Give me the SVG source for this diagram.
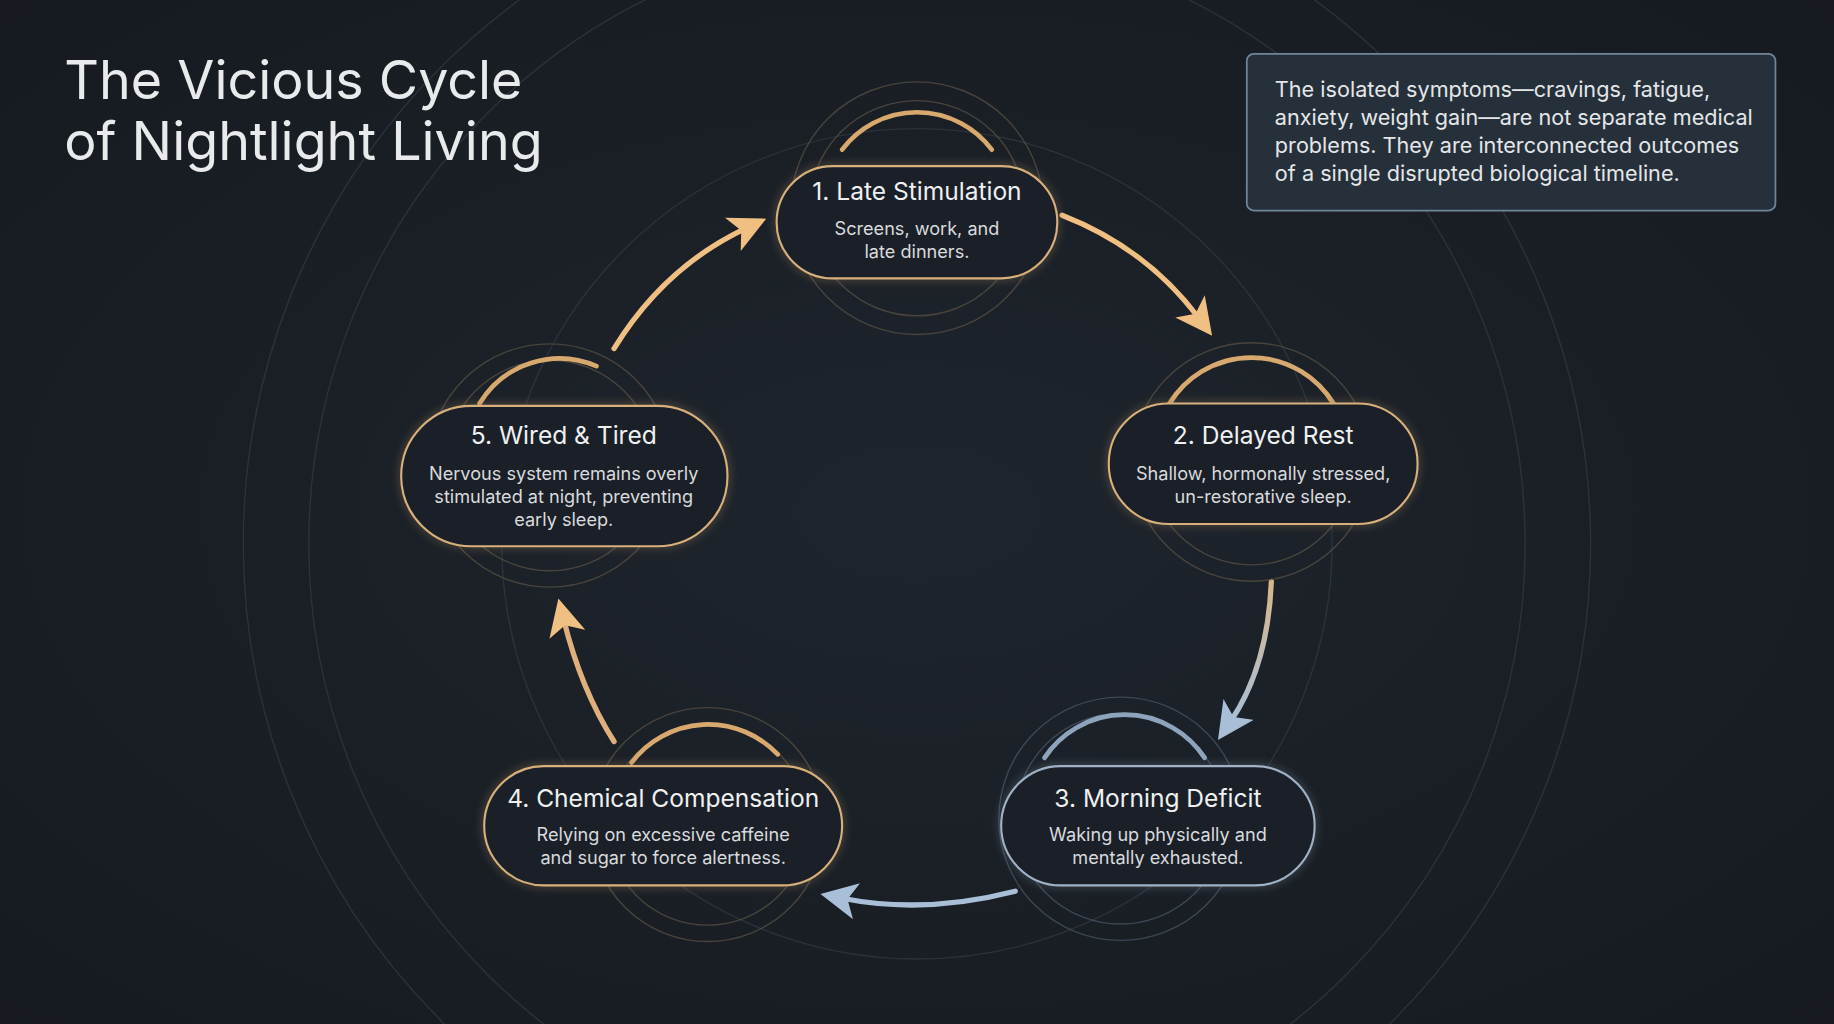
<svg xmlns="http://www.w3.org/2000/svg" width="1834" height="1024" viewBox="0 0 1834 1024">
<defs>
<radialGradient id="bg" cx="50%" cy="50%" r="70%"><stop offset="0" stop-color="#1f252d"/><stop offset="1" stop-color="#161a20"/></radialGradient>
<marker id="ag" viewBox="0 0 10 10" refX="4" refY="5" markerWidth="7" markerHeight="7" orient="auto-start-reverse"><path d="M0,0 L10,5 L0,10 L2.5,5 z" fill="#f0bf82"/></marker>
<marker id="ab" viewBox="0 0 10 10" refX="4" refY="5" markerWidth="7" markerHeight="7" orient="auto-start-reverse"><path d="M0,0 L10,5 L0,10 L2.5,5 z" fill="#a9bfd8"/></marker>
<linearGradient id="g23" x1="0" y1="0" x2="0" y2="1"><stop offset="0" stop-color="#d9b58a"/><stop offset="1" stop-color="#a9bfd8"/></linearGradient>
<filter id="glow" x="-30%" y="-30%" width="160%" height="160%"><feGaussianBlur stdDeviation="4"/></filter>
</defs>
<style>
.pill{fill:#1b2028;stroke:#d8b07c;stroke-width:1.8}
.pillb{fill:#1b2028;stroke:#9fb2c6;stroke-width:1.8}
.ring{fill:none;stroke:#5c5346;stroke-width:1.2;opacity:.7}
.ringb{fill:none;stroke:#4b5868;stroke-width:1.2;opacity:.7}
.arcg{fill:none;stroke:#d8a96e;stroke-width:4;stroke-linecap:round}
.arcb{fill:none;stroke:#8ea4bd;stroke-width:4;stroke-linecap:round}
.h{font-family:Inter,"Liberation Sans",sans-serif;font-size:21px;fill:#eef0f2;text-anchor:middle}
.s{font-family:Inter,"Liberation Sans",sans-serif;font-size:15.5px;fill:#d8dadd;text-anchor:middle}
.con{fill:none;stroke-width:4.5;stroke-linecap:round}
</style>
<rect width="1834" height="1024" fill="url(#bg)"/>
<g transform="scale(1.1696)">
<g id="bgcircles" fill="none" stroke="#2c323a" stroke-width="1.2">
<circle cx="784" cy="465" r="520"/><circle cx="784" cy="465" r="576"/><circle cx="784" cy="465" r="355"/>
</g>
<g id="title"><text x="55" y="85" font-family="Inter,'Liberation Sans',sans-serif" font-size="46" fill="#e8eaec">The Vicious Cycle</text><text x="55" y="137" font-family="Inter,'Liberation Sans',sans-serif" font-size="46" fill="#e8eaec">of Nightlight Living</text></g>
<g id="note">
<rect x="1066" y="46" width="452" height="134" rx="6" fill="#25303b" stroke="#6f8598" stroke-width="1.5"/>
<g font-family="Inter,'Liberation Sans',sans-serif" font-size="18.5" fill="#e4e6e8">
<text x="1090" y="83">The isolated symptoms—cravings, fatigue,</text>
<text x="1090" y="107">anxiety, weight gain—are not separate medical</text>
<text x="1090" y="131">problems. They are interconnected outcomes</text>
<text x="1090" y="155">of a single disrupted biological timeline.</text></g>
</g>
<g id="connectors">
<path class="con" stroke="#f0bf82" marker-end="url(#ag)" d="M908,184 Q980,212 1025,272"/>
<path class="con" stroke="url(#g23)" marker-end="url(#ab)" d="M1087,497 Q1084,570 1052,617"/>
<path class="con" stroke="#a9bfd8" marker-end="url(#ab)" d="M868,762 Q790,782 720,768"/>
<path class="con" stroke="#e0b07c" marker-end="url(#ag)" d="M525,634 Q497,590 482,530"/>
<path class="con" stroke="#f0bf82" marker-end="url(#ag)" d="M525,298 Q568,228 638,195"/>
</g>
<g id="n1">
<circle class="ring" cx="784" cy="178" r="108"/><circle class="ring" cx="784" cy="178" r="92"/>
<path class="arcg" d="M720,128 A80,80 0 0 1 848,128"/>
<rect class="pill" x="664" y="142" width="240" height="96" rx="48" filter="url(#glow)" opacity=".5"/>
<rect class="pill" x="664" y="142" width="240" height="96" rx="48"/>
<text class="h" x="784" y="171">1. Late Stimulation</text>
<text class="s" x="784" y="201">Screens, work, and</text><text class="s" x="784" y="221">late dinners.</text>
</g>
<g id="n2">
<circle class="ring" cx="1070" cy="395" r="102"/><circle class="ring" cx="1070" cy="395" r="88"/>
<path class="arcg" d="M1000,345 A82,82 0 0 1 1140,345"/>
<rect class="pill" x="948" y="345" width="264" height="103" rx="51" filter="url(#glow)" opacity=".5"/>
<rect class="pill" x="948" y="345" width="264" height="103" rx="51"/>
<text class="h" x="1080" y="380">2. Delayed Rest</text>
<text class="s" x="1080" y="410">Shallow, hormonally stressed,</text><text class="s" x="1080" y="430">un-restorative sleep.</text>
</g>
<g id="n3">
<circle class="ringb" cx="958" cy="700" r="104"/><circle class="ringb" cx="958" cy="700" r="90"/>
<path class="arcb" d="M893,648 A82,82 0 0 1 1030,648"/>
<rect class="pillb" x="856" y="655" width="268" height="102" rx="51" filter="url(#glow)" opacity=".5"/>
<rect class="pillb" x="856" y="655" width="268" height="102" rx="51"/>
<text class="h" x="990" y="690">3. Morning Deficit</text>
<text class="s" x="990" y="719">Waking up physically and</text><text class="s" x="990" y="739">mentally exhausted.</text>
</g>
<g id="n4">
<circle class="ring" cx="605" cy="705" r="100"/><circle class="ring" cx="605" cy="705" r="86"/>
<path class="arcg" d="M540,652 A82,82 0 0 1 665,645"/>
<rect class="pill" x="414" y="655" width="306" height="102" rx="51" filter="url(#glow)" opacity=".5"/>
<rect class="pill" x="414" y="655" width="306" height="102" rx="51"/>
<text class="h" x="567" y="690">4. Chemical Compensation</text>
<text class="s" x="567" y="719">Relying on excessive caffeine</text><text class="s" x="567" y="739">and sugar to force alertness.</text>
</g>
<g id="n5">
<circle class="ring" cx="470" cy="398" r="104"/><circle class="ring" cx="470" cy="398" r="90"/>
<path class="arcg" d="M410,345 A80,80 0 0 1 510,313"/>
<rect class="pill" x="343" y="347" width="279" height="120" rx="60" filter="url(#glow)" opacity=".5"/>
<rect class="pill" x="343" y="347" width="279" height="120" rx="60"/>
<text class="h" x="482" y="380">5. Wired &amp; Tired</text>
<text class="s" x="482" y="410">Nervous system remains overly</text><text class="s" x="482" y="430">stimulated at night, preventing</text><text class="s" x="482" y="450">early sleep.</text>
</g>
</g>
</svg>
